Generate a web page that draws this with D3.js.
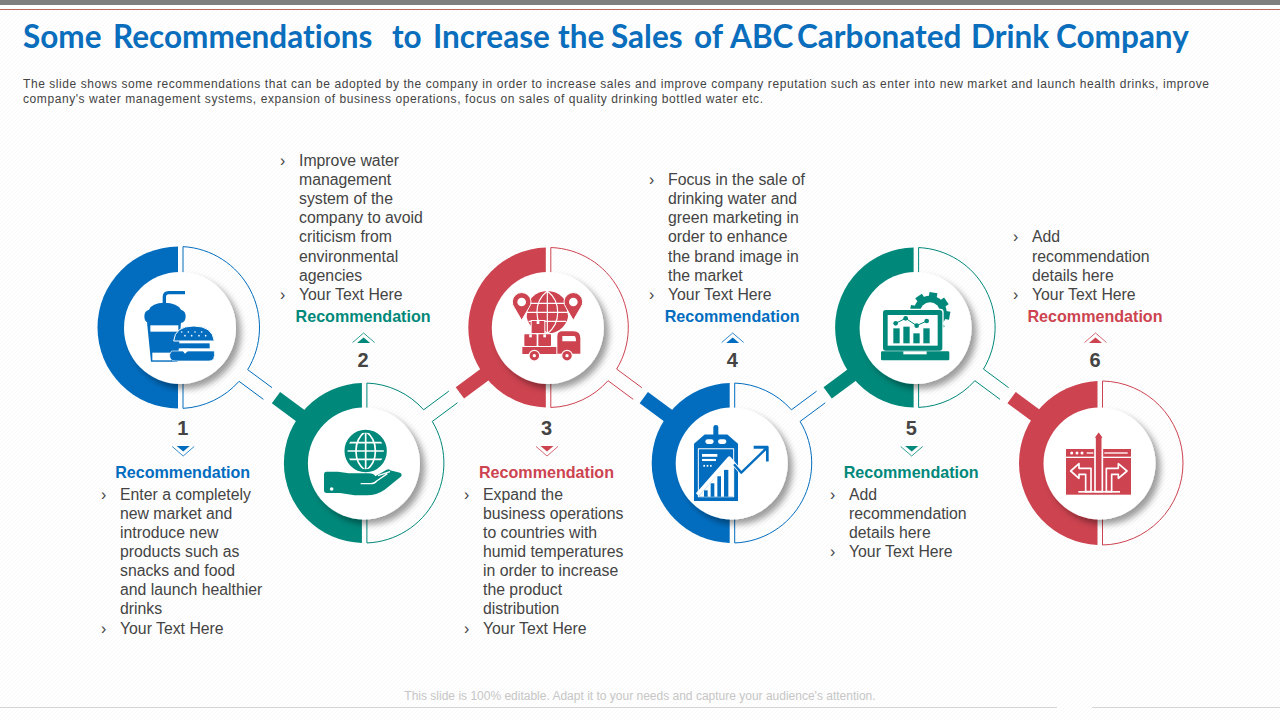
<!DOCTYPE html>
<html lang="en">
  <head>
    <meta http-equiv="Content-Type" content="text/html; charset=utf-8" />
    <title>Some Recommendations</title>
    <style>
      html, body { margin: 0; padding: 0; background: #fff; }
      svg { display: block; }
      text { font-family: "Liberation Sans", Arial, sans-serif; }
    </style>
    <script src="https://cdnjs.cloudflare.com/ajax/libs/d3/7.8.5/d3.min.js" charset="utf-8"></script>
  </head>
  <body>
    <div id="chart"></div>
    <script>
      // slide content
      var titleWords = ["Some", "Recommendations", "to", "Increase", "the", "Sales", "of", "ABC", "Carbonated", "Drink", "Company"];
      var introLines = [
        "The slide shows some recommendations that can be adopted by the company in order to increase sales and improve company reputation such as enter into new market and launch health drinks, improve",
        "company's water management systems, expansion of business operations, focus on sales of quality drinking bottled water etc."
      ];
      var footerText = "This slide is 100% editable. Adapt it to your needs and capture your audience's attention.";
      var steps = [1, 2, 3, 4, 5, 6];
      var heading = "Recommendation";
      var step1 = ["Enter a completely", "new market and", "introduce new", "products such as", "snacks and food", "and launch healthier", "drinks"];
      var step2 = ["Improve water", "management", "system of the", "company to avoid", "criticism from", "environmental", "agencies"];
      var step3 = ["Expand the", "business operations", "to countries with", "humid temperatures", "in order to increase", "the product", "distribution"];
      var step4 = ["Focus in the sale of", "drinking water and", "green marketing in", "order to enhance", "the brand image in", "the market"];
      var step5 = ["Add", "recommendation", "details here"];
      var step6 = ["Add", "recommendation", "details here"];
      var stepBullets = [step1, step2, step3, step4, step5, step6];
      var lastBullet = "Your Text Here";

      // colours and layout, kept apart from the content
      var BLUE = "#026dbf", TEAL = "#00887a", RED = "#cd4350", INK = "#444444";
      var stepColors = [BLUE, TEAL, RED, BLUE, TEAL, RED];
      var titleX = [23, 113, 392, 433, 558, 611, 694, 730, 797, 971, 1056];
      var introWidth = [1186, 740];
      var ringShift = [-2, -0.5, 0, -0.5, -1, 1];
      var ringRadius = [81, 80, 80, 80, 80, 82];
      var labelShift = [2.2, -1.3, -1.8, 0, -4.9, -5];
      var textShift = [-60.5, -65.4, -65.3, -64.2, -67.1, -68];
      var iconOrigin = [[135, 283], [318, 423], [505, 283], [688, 420], [875, 285], [1055, 425]];
      var GAP = 2.5, AXIS = (36.5 * Math.PI) / 180, LINE_H = 19.15;

      var x = d3.scalePoint().domain(steps).range([180.5, 1100]);
      var y = d3.scaleOrdinal().domain(["high", "low"]).range([327.5, 463]);
      var rowOf = function (d) { return d % 2 ? "high" : "low"; };

      var svg = d3.select("#chart").append("svg").attr("width", 1280).attr("height", 720);
      var defs = svg.append("defs");

      var hatch = defs.append("pattern").attr("id", "hatch").attr("width", 4).attr("height", 4)
        .attr("patternUnits", "userSpaceOnUse");
      hatch.append("rect").attr("width", 4).attr("height", 4).attr("fill", "#ffffff");
      hatch.append("path").attr("d", "M0,4L4,0M-1,1L1,-1M3,5L5,3").attr("stroke", "#f8f8f8").attr("stroke-width", 1);

      var shadow = defs.append("filter").attr("id", "shadow")
        .attr("x", "-30%").attr("y", "-30%").attr("width", "170%").attr("height", "170%");
      shadow.append("feDropShadow").attr("dx", 5).attr("dy", 5).attr("stdDeviation", 3)
        .attr("flood-color", "#000").attr("flood-opacity", 0.38);

      svg.append("rect").attr("width", 1280).attr("height", 720).attr("fill", "url(#hatch)");
      svg.append("rect").attr("width", 1280).attr("height", 5).attr("fill", "#7f7f7f");
      svg.append("rect").attr("y", 5).attr("width", 1280).attr("height", 4).attr("fill", "#fff");
      svg.append("rect").attr("y", 9).attr("width", 1280).attr("height", 1).attr("fill", "#b9665f");

      svg.append("text").attr("y", 48)
        .style("font-family", "Lato").style("font-weight", 700).style("font-size", "31.5px")
        .style("font-variant-ligatures", "none")
        .attr("fill", "#0a6ebd")
        .selectAll("tspan").data(titleWords).enter().append("tspan")
        .attr("x", function (d, i) { return titleX[i]; })
        .text(function (d, i) { return i < titleWords.length - 1 ? d + " " : d; });

      // the intro is justified to the text box
      svg.selectAll(".intro").data(introLines).enter().append("text").attr("class", "intro")
        .attr("x", 23).attr("y", function (d, i) { return 88 + i * 15.2; })
        .attr("textLength", function (d, i) { return introWidth[i]; })
        .attr("lengthAdjust", "spacing")
        .style("font-size", "12px").attr("fill", INK).text(function (d) { return d; });

      // footer
      svg.append("text").attr("x", 640).attr("y", 700).attr("text-anchor", "middle")
        .style("font-size", "12px").attr("fill", "#c6c6c6").text(footerText);
      svg.append("rect").attr("y", 707).attr("width", 1057).attr("height", 1).attr("fill", "#d6d6d6");
      svg.append("rect").attr("x", 1092).attr("y", 707).attr("width", 188).attr("height", 1).attr("fill", "#d6d6d6");

      function halfDisc(rx, cy, R, gapX) {
        var p = d3.path(), phi = Math.acos((gapX - rx) / R);
        p.arc(rx, cy, R, -phi, phi, true);
        p.closePath();
        return p.toString();
      }

      // thin right half with a notch where the next ring's handle comes in
      function outline(rx, cy, R, gapX, notch) {
        var p = d3.path(), phi = Math.acos((gapX - rx) / R);
        if (notch === 0) {
          p.arc(rx, cy, R, -phi, phi);
          p.closePath();
          return p.toString();
        }
        var a = notch * AXIS, w = 7.25, far = 111, d = Math.asin(w / R);
        var farPt = function (s) {
          return [rx + far * Math.cos(a) - s * w * Math.sin(a), cy + far * Math.sin(a) + s * w * Math.cos(a)];
        };
        var f1 = farPt(1), f2 = farPt(-1);
        p.moveTo(f1[0], f1[1]);
        p.arc(rx, cy, R, a + d, phi);
        p.lineTo(gapX, cy - R * Math.sin(phi));
        p.arc(rx, cy, R, -phi, a - d);
        p.lineTo(f2[0], f2[1]);
        return p.toString();
      }

      var rings = svg.selectAll(".ring").data(steps).enter().append("g").attr("class", "ring");

      // handles point back at the previous ring
      rings.filter(function (d) { return d > 1; }).append("line")
        .attr("x1", function (d) { return x(d); })
        .attr("y1", function (d) { return y(rowOf(d)); })
        .attr("x2", function (d) { return x(d) - 110 * Math.cos(AXIS); })
        .attr("y2", function (d) { return y(rowOf(d)) + (d % 2 ? 1 : -1) * 110 * Math.sin(AXIS); })
        .attr("stroke", function (d, i) { return stepColors[i + 1]; })
        .attr("stroke-width", 14);

      rings.append("path")
        .attr("d", function (d, i) {
          return halfDisc(x(d) + ringShift[i], y(rowOf(d)), ringRadius[i], x(d) - GAP);
        })
        .attr("fill", function (d, i) { return stepColors[i]; });

      rings.append("path")
        .attr("d", function (d, i) {
          var notch = d === 6 ? 0 : d % 2 ? 1 : -1;
          return outline(x(d) + ringShift[i], y(rowOf(d)), ringRadius[i], x(d) + GAP, notch);
        })
        .attr("fill", "none").attr("stroke", function (d, i) { return stepColors[i]; }).attr("stroke-width", 1);

      rings.append("circle")
        .attr("cx", function (d) { return x(d) - 0.5; })
        .attr("cy", function (d) { return y(rowOf(d)) + 0.5; })
        .attr("r", 56).attr("fill", "#fff").attr("filter", "url(#shadow)");

      // number, chevron and heading
      rings.append("text").attr("text-anchor", "middle")
        .attr("x", function (d, i) { return x(d) + labelShift[i]; })
        .attr("y", function (d) { return d % 2 ? 435 : 367; })
        .style("font-size", "20px").style("font-weight", 700).attr("fill", INK)
        .text(function (d) { return d; });

      rings.append("text").attr("text-anchor", "middle")
        .attr("x", function (d, i) { return x(d) + labelShift[i]; })
        .attr("y", function (d) { return d % 2 ? 477.5 : 321.5; })
        .style("font-size", "16.1px").style("font-weight", 700)
        .attr("fill", function (d, i) { return stepColors[i]; })
        .text(heading);

      rings.each(function (d, i) {
        var g = d3.select(this), cx = x(d) + labelShift[i] + 0.5, col = stepColors[i];
        var up = d % 2 === 0, s = up ? -1 : 1, y0 = up ? 343 : 446;
        g.append("path").attr("fill", col)
          .attr("d", "M" + (cx - 6.5) + "," + y0 + "H" + (cx + 6.5) + "L" + cx + "," + (y0 + s * 5.5) + "Z");
        g.append("path").attr("fill", "none").attr("stroke", col).attr("stroke-width", 0.8)
          .attr("d", "M" + (cx - 11) + "," + (y0 + s * 0.5) + "L" + cx + "," + (y0 + s * 10) + "L" + (cx + 11) + "," + (y0 + s * 0.5));
      });

      // bullet text
      rings.each(function (d, i) {
        var g = d3.select(this), tx = x(d) + textShift[i];
        var lines = stepBullets[i].concat([lastBullet]);
        var lastY = d % 2 ? 499.5 + (lines.length - 1) * LINE_H : 299.8;
        lines.forEach(function (line, j) {
          var ly = lastY - (lines.length - 1 - j) * LINE_H;
          g.append("text").attr("x", tx).attr("y", ly)
            .style("font-size", "15.8px").attr("fill", INK).text(line);
          if (j === 0 || j === lines.length - 1) {
            g.append("text").attr("x", tx - 19).attr("y", ly)
              .style("font-size", "15.8px").attr("fill", INK).text("\u203A");
          }
        });
      });

      // icons are drawn in a 270 box, 3x the pixels they end up at
      function shape(g, d, fill, extra) {
        var p = g.append("path").attr("d", d).attr("fill", fill || "none");
        if (extra) { p.attr("stroke", extra.stroke).attr("stroke-width", extra.w).attr("stroke-linecap", extra.cap || "butt").attr("stroke-linejoin", "round"); }
        return p;
      }
      function dot(g, cx, cy, r, fill, stroke, w) {
        return g.append("circle").attr("cx", cx).attr("cy", cy).attr("r", r).attr("fill", fill)
          .attr("stroke", stroke || "none").attr("stroke-width", w || 0);
      }
      function box(g, bx, by, w, h, fill, rx) {
        return g.append("rect").attr("x", bx).attr("y", by).attr("width", w).attr("height", h)
          .attr("fill", fill).attr("rx", rx || 0);
      }

      function iconFood(g, c) {
        shape(g, "M88,68V42Q88,29 101,29H150", "none", { stroke: c, w: 10 });
        shape(g, "M42,80Q50,60 88,59Q128,60 138,80Q152,84 152,100Q152,120 136,120H44Q28,120 28,100Q28,84 42,80Z", c);
        shape(g, "M36,118H138L128,236H48Z", c);
        box(g, 46, 127, 84, 19, "#fff");
        box(g, 52, 209, 56, 23, "#fff");
        shape(g, "M116,174Q120,129 176,129Q232,129 238,174Z", c, { stroke: "#fff", w: 3 });
        [[140, 147], [160, 147], [180, 147], [200, 147], [150, 158], [170, 158], [192, 158], [212, 158]].forEach(function (q) {
          dot(g, q[0], q[1], 2.5, "#fff");
        });
        box(g, 120, 181, 104, 15, c);
        shape(g, "M110,204H238Q242,234 222,234H122Q102,234 104,214Z", c, { stroke: "#fff", w: 2 });
        shape(g, "M138,197H166L150,212Z", "#fff");
      }

      function globe(g, cx, cy, r, c, w) {
        dot(g, cx, cy, r, c);
        var lines = "M" + (cx - r) + "," + cy + "H" + (cx + r) +
          "M" + (cx - r * 0.88) + "," + (cy - r * 0.42) + "H" + (cx + r * 0.88) +
          "M" + (cx - r * 0.88) + "," + (cy + r * 0.42) + "H" + (cx + r * 0.88) +
          "M" + cx + "," + (cy - r) + "V" + (cy + r) +
          "M" + cx + "," + (cy - r) + "C" + (cx - r * 0.65) + "," + (cy - r * 0.5) + " " + (cx - r * 0.65) + "," + (cy + r * 0.5) + " " + cx + "," + (cy + r) +
          "M" + cx + "," + (cy - r) + "C" + (cx + r * 0.65) + "," + (cy - r * 0.5) + " " + (cx + r * 0.65) + "," + (cy + r * 0.5) + " " + cx + "," + (cy + r);
        shape(g, lines, "none", { stroke: "#fff", w: w });
      }

      function iconHand(g, c) {
        globe(g, 143, 84, 60, c, 5);
        dot(g, 143, 84, 59, "none", c, 9);
        shape(g, "M24,146H60L92,151H152Q168,151 172,160L206,140Q214,136 216,142L240,148Q254,150 250,160L200,200Q174,218 144,217H110L66,210H26Q18,210 18,202V154Q18,146 24,146Z", c);
        shape(g, "M128,182H158Q170,182 176,174L208,152M180,158L216,146", "none", { stroke: "#fff", w: 4 });
        dot(g, 41, 198, 5.5, "#fff");
      }

      function pin(g, cx, c) {
        shape(g, "M" + cx + ",112L" + (cx - 22) + ",74A28,28 0 1 1 " + (cx + 22) + ",74Z", c, { stroke: "#fff", w: 3 });
        dot(g, cx, 57, 13, "#fff");
      }
      function truckBox(g, bx, by, w, h, c) {
        box(g, bx, by, w, h, c, 2);
        box(g, bx + w / 2 - 4, by, 8, 9, "#fff");
      }
      function iconTruck(g, c) {
        globe(g, 127, 88, 64, c, 3.5);
        shape(g, "M55,30H78L60,125H55ZM199,30H176L194,125H199Z", "#fff");
        pin(g, 50, c);
        pin(g, 205, c);
        box(g, 77, 111, 44, 44, "#fff");
        truckBox(g, 80, 114, 38, 38, c);
        box(g, 54, 150, 88, 40, "#fff");
        truckBox(g, 58, 154, 37, 35, c);
        truckBox(g, 100, 154, 38, 35, c);
        box(g, 52, 192, 102, 21, c);
        shape(g, "M157,212V160Q157,145 172,145H206Q226,145 226,166V212Z", c);
        shape(g, "M172,159H208Q213,160 213,175H172Z", "#fff");
        dot(g, 88, 218, 16, c, "#fff", 3.5);
        dot(g, 186, 218, 16, c, "#fff", 3.5);
        dot(g, 88, 218, 5, "#fff");
        dot(g, 186, 218, 5, "#fff");
      }

      function iconTag(g, c) {
        // the tag runs a little taller than its crop suggested
        g = g.append("g").attr("transform", "translate(0,15) scale(1,1.06) translate(0,-15)");
        box(g, 76, 15, 15, 38, c, 7);
        shape(g, "M50,42H118L150,68V230H18V68Z", c);
        box(g, 52, 55, 25, 14, "#fff", 7);
        box(g, 90, 55, 25, 14, "#fff", 7);
        shape(g, "M31,82H137V218H31Z", "none", { stroke: "#fff", w: 3 });
        box(g, 42, 97, 46, 8, "#fff");
        box(g, 42, 111, 42, 6, "#fff");
        [46, 56, 66].forEach(function (q) { box(g, q, 128, 5, 5, "#fff"); });
        shape(g, "M33,216L124,116L137,132V216Z", "#fff");
        [[48, 200, 11], [68, 180, 11], [88, 160, 11], [108, 142, 13]].forEach(function (q) {
          box(g, q[0], q[1], q[2], 218 - q[1], c);
        });
        shape(g, "M28,212L124,110L160,150L236,80", "none", { stroke: "#fff", w: 12 });
        shape(g, "M138,126L160,150L236,80", "none", { stroke: c, w: 7 });
        shape(g, "M197,78H238V118", "none", { stroke: c, w: 8 });
      }

      function iconLaptop(g, c) {
        d3.range(8).forEach(function (k) {
          box(g, 153, 22, 24, 22, c).attr("transform", "rotate(" + (k * 45 + 10) + " 165 82)");
        });
        dot(g, 165, 82, 50, c);
        dot(g, 165, 82, 30, "#fff");
        box(g, 20, 71, 186, 130, "#fff", 10);
        box(g, 24, 75, 178, 122, c, 8);
        box(g, 38, 90, 150, 92, "#fff");
        [[55, 130], [85, 125], [115, 145], [145, 130]].forEach(function (q) {
          box(g, q[0], q[1], 19, 175 - q[1], c);
        });
        shape(g, "M62,115L92,100L125,122L155,108", "none", { stroke: "#fff", w: 8 });
        shape(g, "M62,115L92,100L125,122L155,108", "none", { stroke: c, w: 3 });
        [[62, 115], [92, 100], [125, 122], [155, 108]].forEach(function (q) { dot(g, q[0], q[1], 7, c); });
        box(g, 18, 199, 205, 27, c, 4);
        box(g, 85, 199, 70, 9, "#fff");
      }

      function iconRoads(g, c) {
        box(g, 33, 72, 195, 137, c);
        box(g, 33, 95, 195, 4, "#fff");
        [50, 66, 81].forEach(function (q) { dot(g, q, 84, 4.5, "#fff"); });
        box(g, 95, 82, 20, 4, "#fff");
        box(g, 148, 82, 70, 4, "#fff");
        var wStroke = { stroke: "#fff", w: 5 };
        shape(g, "M120,200V40H115L131,18L147,40H142V200Z", c, wStroke);
        shape(g, "M47,138L72,116V130H108V200H92V148H72V160Z", c, wStroke);
        shape(g, "M216,138L190,116V130H154V200H170V148H190V160Z", c, wStroke);
        box(g, 70, 198, 125, 5, "#fff");
      }

      var iconDraw = [iconFood, iconHand, iconTruck, iconTag, iconLaptop, iconRoads];
      rings.append("g")
        .attr("transform", function (d, i) {
          return "translate(" + iconOrigin[i][0] + "," + iconOrigin[i][1] + ") scale(" + 1 / 3 + ")";
        })
        .each(function (d, i) { iconDraw[i](d3.select(this), stepColors[i]); });
    </script>
  </body>
</html>
